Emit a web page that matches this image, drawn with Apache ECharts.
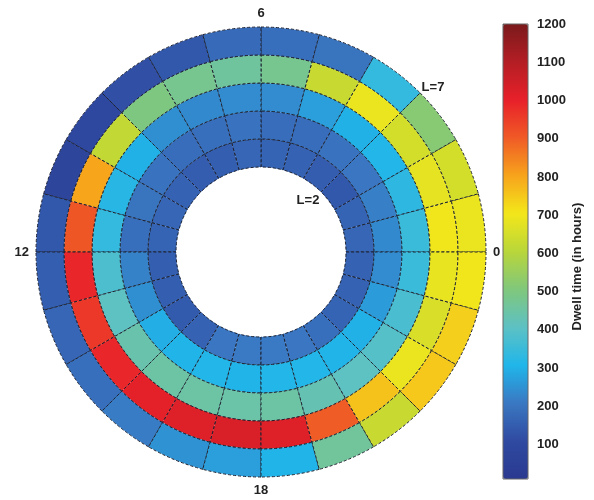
<!DOCTYPE html>
<html>
<head>
<meta charset="utf-8">
<script src="https://cdn.jsdelivr.net/npm/echarts@6/dist/echarts.min.js"></script>
<style>
	html, body { margin: 0; padding: 0; background: #fff; }
	#main { width: 594px; height: 500px; }
</style>
</head>
<body>
<div id="main"></div>
<script>
	// L shells (inner edge of each ring) and MLT sectors
	var lShells = [2, 3, 4, 5, 6];
	var mltHours = [0,1,2,3,4,5,6,7,8,9,10,11,12,13,14,15,16,17,18,19,20,21,22,23];
	var mltTicks = [0, 6, 12, 18];

	// dwell time (hours) per MLT hour, one array per ring
	var ringL2 = [170,165,140,150,160,165,170,155,150,160,170,165,155,155,145,160,205,210,210,205,190,165,160,160];
	var ringL3 = [235,220,205,195,185,185,195,190,185,195,200,190,225,245,295,305,310,305,310,310,305,300,265,240];
	var ringL4 = [350,330,310,300,270,240,240,235,245,300,320,340,380,410,440,450,450,445,450,430,410,395,375,350];
	var ringL5 = [700,680,650,690,630,480,460,480,500,620,800,910,990,960,990,1010,1020,1030,1020,900,760,690,660,685];
	var ringL6 = [690,650,520,340,200,190,180,140,120,100,80,140,155,170,190,215,250,270,305,465,630,750,740,700];

	var colorTicks = [100,200,300,400,500,600,700,800,900,1000,1100,1200];
	var jetColors = ['#2a3990','#2f4aa1','#3a78c2','#20b6ea','#5dc1c4','#80c77c','#b9d63a',
		'#f3e71a','#f7a41c','#f05a26','#e8202a','#b31e24','#7a1a1c'];

	var rings = [ringL2, ringL3, ringL4, ringL5, ringL6];
	var cells = [];
	for (var i = 0; i < lShells.length; i++) {
		for (var j = 0; j < mltHours.length; j++) {
			cells.push([lShells[i], mltHours[j], rings[i][j]]);
		}
	}

	function renderCell(params, api) {
		var cs = params.coordSys;
		var L = api.value(0), m = api.value(1);
		var p0 = api.coord([L, m]);
		var p1 = api.coord([L + 1, m + 1]);
		var r0 = Math.sqrt(Math.pow(p0[0] - cs.cx, 2) + Math.pow(p0[1] - cs.cy, 2));
		var r1 = Math.sqrt(Math.pow(p1[0] - cs.cx, 2) + Math.pow(p1[1] - cs.cy, 2));
		var a0 = Math.atan2(p0[1] - cs.cy, p0[0] - cs.cx);
		var a1 = Math.atan2(p1[1] - cs.cy, p1[0] - cs.cx);
		// counter-clockwise on screen -> a1 is smaller than a0
		var d = a0 - a1;
		while (d <= 0) d += Math.PI * 2;
		while (d > Math.PI * 2) d -= Math.PI * 2;
		return {
			type: 'sector',
			shape: { cx: cs.cx, cy: cs.cy, r0: r0, r: r1, startAngle: a0 - d, endAngle: a0, clockwise: true },
			style: { fill: api.visual('color'), stroke: '#1e2230', lineWidth: 1, lineDash: [3, 2] }
		};
	}

	var chart = echarts.init(document.getElementById('main'));
	var option = {
		animation: false,
		textStyle: { fontFamily: 'Liberation Sans' },
		polar: { center: [261, 252], radius: [85, 225] },
		angleAxis: {
			type: 'value', min: 0, max: 24, interval: 6,
			startAngle: 0, clockwise: false,
			axisLine: { show: false }, axisTick: { show: false }, splitLine: { show: false },
			axisLabel: {
				margin: 7, fontSize: 13, fontWeight: 'bold', color: '#222',
				formatter: function (v) { return mltTicks.indexOf(v) >= 0 ? String(v) : ''; }
			}
		},
		radiusAxis: {
			type: 'value', min: 2, max: 7,
			axisLine: { show: false }, axisTick: { show: false },
			axisLabel: { show: false }, splitLine: { show: false }
		},
		grid: { left: 503, top: 24, width: 25, height: 455, show: true, borderColor: '#666', borderWidth: 1, z: 5 },
		xAxis: { type: 'value', show: false },
		yAxis: {
			type: 'value', position: 'right', min: 10, max: 1200,
			splitLine: { show: false }, axisLine: { show: false },
			axisTick: { show: true, length: 5, customValues: colorTicks, lineStyle: { color: '#333' } },
			axisLabel: {
				margin: 9, fontSize: 13, fontWeight: 'bold', color: '#222', customValues: colorTicks,
				formatter: function (v) { return String(v); }
			},
			name: 'Dwell time (in hours)', nameLocation: 'middle', nameRotate: 90, nameGap: 43,
			nameTextStyle: { fontSize: 13, fontWeight: 'bold', color: '#222', padding: [0, 30, 0, 0] }
		},
		visualMap: {
			type: 'continuous', min: 10, max: 1200, dimension: 2, seriesIndex: 0,
			orient: 'vertical', left: 503, top: 24, itemWidth: 25, itemHeight: 455,
			padding: 0, calculable: false, hoverLink: false,
			inRange: { color: jetColors }
		},
		graphic: [
			{ type: 'text', x: 433, y: 87, style: { text: 'L=7', font: 'bold 13px "Liberation Sans"', fill: '#222', align: 'center', verticalAlign: 'middle', textAlign: 'center', textVerticalAlign: 'middle' } },
			{ type: 'text', x: 308, y: 200, style: { text: 'L=2', font: 'bold 13px "Liberation Sans"', fill: '#222', align: 'center', verticalAlign: 'middle', textAlign: 'center', textVerticalAlign: 'middle' } }
		],
		series: [{
			type: 'custom',
			coordinateSystem: 'polar',
			renderItem: renderCell,
			encode: { radius: 0, angle: 1 },
			data: cells
		}]
	};
	chart.setOption(option);
</script>
</body>
</html>
